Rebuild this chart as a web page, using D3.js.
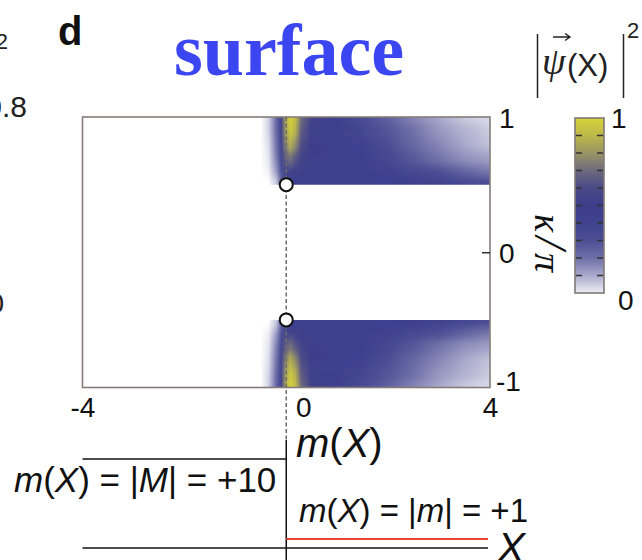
<!DOCTYPE html>
<html>
<head>
<meta charset="utf-8">
<script src="https://cdn.jsdelivr.net/npm/d3@7"></script>
<style>
  html, body { margin: 0; padding: 0; background: #fff; }
  svg { display: block; }
  .sans { font-family: "Liberation Sans", Arial, sans-serif; }
  .serif { font-family: "Liberation Serif", "Times New Roman", serif; }
</style>
</head>
<body>
<svg id="chart" width="642" height="560"></svg>
<script>
// ---- axes and ticks ----
const xDomain = [-4, 4];
const kappaDomain = [-1, 1];
const xTicks = [-4, 0, 4];
const kappaTicks = [-1, 0, 1];

// ---- colour map for |psi(X)|^2 ----
const cmapStops  = [0, 0.1, 0.2, 0.3, 0.4, 0.5, 0.6, 0.7, 0.8, 0.9, 1.0];
const cmapColors = ["#ffffff", "#a9a9cc", "#6e6fa8", "#4c4f94", "#3f428f", "#3c3e8b",
                    "#4a4988", "#6e6a7e", "#9a9465", "#bdb84a", "#d6d33a"];
const colorbarTicks = [0.1, 0.2, 0.3, 0.4, 0.5, 0.6, 0.7, 0.8, 0.9];
const colorbarLabels = [0, 1];

// ---- surface-state density, sampled along X for several |kappa|/pi ----
const xSamples = [-4, -0.7, -0.5, -0.35, -0.2, -0.1, 0, 0.08, 0.18, 0.3, 0.5, 1, 1.5, 2, 2.5, 3, 3.5, 4];
const kappaRows = [1.0, 0.9, 0.8, 0.7, 0.6, 0.52];
const density_k100 = [0, 0, 0, 0.05, 0.22, 0.45, 0.88, 1.00, 0.92, 0.70, 0.53, 0.43, 0.33, 0.24, 0.16, 0.10, 0.06, 0.04];
const density_k090 = [0, 0, 0, 0.05, 0.21, 0.42, 0.86, 0.96, 0.88, 0.65, 0.51, 0.45, 0.37, 0.28, 0.20, 0.13, 0.09, 0.06];
const density_k080 = [0, 0, 0, 0.04, 0.19, 0.40, 0.78, 0.88, 0.78, 0.61, 0.50, 0.46, 0.41, 0.31, 0.22, 0.16, 0.10, 0.07];
const density_k070 = [0, 0, 0, 0.03, 0.17, 0.36, 0.66, 0.72, 0.64, 0.55, 0.50, 0.47, 0.43, 0.36, 0.27, 0.19, 0.14, 0.11];
const density_k060 = [0, 0, 0, 0.02, 0.13, 0.31, 0.54, 0.55, 0.52, 0.50, 0.48, 0.46, 0.44, 0.40, 0.35, 0.30, 0.23, 0.18];
const density_k052 = [0, 0, 0, 0, 0.06, 0.23, 0.46, 0.46, 0.46, 0.46, 0.45, 0.45, 0.44, 0.43, 0.42, 0.40, 0.37, 0.34];
const densityRows = [density_k100, density_k090, density_k080, density_k070, density_k060, density_k052];

// ---- Dirac points where the surface band ends ----
const edgeKappa = [0.5, -0.5];

// ---- mass profile m(X) ----
const massLeft = 10;   // |M|
const massRight = 1;   // |m|

const svg = d3.select("#chart");
const defs = svg.append("defs");

const plot = { left: 82.5, right: 490, top: 117, bottom: 387.5 };
const x = d3.scaleLinear().domain(xDomain).range([plot.left, plot.right]);
const y = d3.scaleLinear().domain(kappaDomain).range([plot.bottom, plot.top]);
const color = d3.scaleLinear().domain(cmapStops).range(cmapColors).interpolate(d3.interpolateRgb);

// one horizontal gradient per sampled kappa row
densityRows.forEach((row, i) => {
  const g = defs.append("linearGradient")
    .attr("id", "row" + i)
    .attr("gradientUnits", "userSpaceOnUse")
    .attr("x1", x(xDomain[0])).attr("x2", x(xDomain[1]))
    .attr("y1", 0).attr("y2", 0);
  g.selectAll("stop").data(row).join("stop")
    .attr("offset", (d, j) => (x(xSamples[j]) - x(xDomain[0])) / (x(xDomain[1]) - x(xDomain[0])))
    .attr("stop-color", d => color(d));
});

// vertical smoothing between neighbouring rows
const blur = defs.append("filter").attr("id", "vblur")
  .attr("filterUnits", "userSpaceOnUse")
  .attr("x", 0).attr("y", 0).attr("width", 642).attr("height", 560);
blur.append("feGaussianBlur").attr("stdDeviation", "0 4.5");

// the two bands: kappa in [0.5, 1] and its mirror [-1, -0.5]
[1, -1].forEach((sign, b) => {
  const k0 = 0.5 * sign, k1 = 1 * sign;
  const top = Math.min(y(k0), y(k1)), bot = Math.max(y(k0), y(k1));
  defs.append("clipPath").attr("id", "band" + b)
    .append("rect").attr("x", plot.left).attr("y", top)
    .attr("width", plot.right - plot.left).attr("height", bot - top);

  const strips = kappaRows.map((k, i) => {
    const hi = i === 0 ? k + 0.15 : (k + kappaRows[i - 1]) / 2;
    const lo = i === kappaRows.length - 1 ? k - 0.15 : (k + kappaRows[i + 1]) / 2;
    return { i, hi: hi * sign, lo: lo * sign };
  });

  svg.append("g").attr("clip-path", `url(#band${b})`)
    .append("g").attr("filter", "url(#vblur)")
    .selectAll("rect").data(strips).join("rect")
      .attr("x", plot.left)
      .attr("width", plot.right - plot.left)
      .attr("y", d => Math.min(y(d.hi), y(d.lo)))
      .attr("height", d => Math.abs(y(d.hi) - y(d.lo)) + 0.5)
      .attr("fill", d => `url(#row${d.i})`);
});

// frame
svg.append("rect")
  .attr("x", plot.left).attr("y", plot.top)
  .attr("width", plot.right - plot.left).attr("height", plot.bottom - plot.top)
  .attr("fill", "none").attr("stroke", "#857c79").attr("stroke-width", 1.6);

// right kappa axis (inner tick at 0)
const yAxis = svg.append("g").attr("class", "sans")
  .attr("transform", `translate(${plot.right},0)`)
  .call(d3.axisRight(y).tickValues(kappaTicks).tickSize(-8).tickPadding(10).tickFormat(d => String(d)));
yAxis.select(".domain").remove();
yAxis.selectAll(".tick line").attr("stroke", "#222").attr("stroke-width", 1.4)
  .attr("opacity", d => d === 0 ? 1 : 0);
yAxis.selectAll(".tick text").attr("font-size", 28).attr("fill", "#111")
  .attr("dy", d => d === -1 ? "0.1em" : "0.36em")
  .attr("x", d => d === -1 ? 6 : 9);

// bottom X axis labels
const xAxis = svg.append("g").attr("class", "sans")
  .attr("transform", `translate(0,${plot.bottom})`)
  .call(d3.axisBottom(x).tickValues(xTicks).tickSize(0).tickPadding(10).tickFormat(d => String(d)));
xAxis.select(".domain").remove();
xAxis.selectAll(".tick text").attr("font-size", 28).attr("fill", "#111")
  .attr("dx", d => d === 0 ? 17 : 0);

// kappa/pi label, rotated
svg.append("text").attr("class", "serif")
  .attr("transform", "translate(535,214) rotate(90)")
  .attr("font-style", "italic").attr("fill", "#111")
  .selectAll("tspan").data(["κ", "/", "π"]).join("tspan")
    .attr("dx", (d, i) => i === 0 ? 0 : 4)
    .attr("font-size", d => d === "/" ? 46 : 38)
    .text(d => d);

// dashed line at X = 0 running down into the m(X) axis
const mScale = d3.scaleLinear().domain([0, 10]).range([548, 459]);
svg.append("line")
  .attr("x1", x(0)).attr("x2", x(0))
  .attr("y1", plot.top).attr("y2", 440)
  .attr("stroke", "#6e6e6e").attr("stroke-width", 1.5).attr("stroke-dasharray", "4,2.5");

// Dirac points
svg.selectAll("circle.dirac").data(edgeKappa).join("circle")
  .attr("class", "dirac")
  .attr("cx", x(0)).attr("cy", d => y(d)).attr("r", 6.5)
  .attr("fill", "#fff").attr("stroke", "#111").attr("stroke-width", 2);

// ---- colour bar ----
const cb = { x: 575, w: 29, top: 118, bottom: 293 };
const cbScale = d3.scaleLinear().domain([0, 1]).range([cb.bottom, cb.top]);
const cbGrad = defs.append("linearGradient").attr("id", "cbgrad")
  .attr("x1", 0).attr("x2", 0).attr("y1", 1).attr("y2", 0);
cbGrad.selectAll("stop").data(cmapStops).join("stop")
  .attr("offset", d => d)
  .attr("stop-color", (d, i) => i === 0 ? "#efedf5" : cmapColors[i]);
svg.append("rect").attr("x", cb.x).attr("y", cb.top)
  .attr("width", cb.w).attr("height", cb.bottom - cb.top)
  .attr("fill", "url(#cbgrad)").attr("stroke", "#807876").attr("stroke-width", 1.6);
const cbTickG = svg.append("g");
colorbarTicks.forEach(t => {
  cbTickG.append("line").attr("x1", cb.x + 1).attr("x2", cb.x + 7)
    .attr("y1", cbScale(t)).attr("y2", cbScale(t));
  cbTickG.append("line").attr("x1", cb.x + cb.w - 7).attr("x2", cb.x + cb.w - 1)
    .attr("y1", cbScale(t)).attr("y2", cbScale(t));
});
cbTickG.selectAll("line").attr("stroke", "#333").attr("stroke-width", 1.5);
svg.selectAll("text.cblabel").data(colorbarLabels).join("text")
  .attr("class", "cblabel sans")
  .attr("x", d => d === 1 ? 611 : 618)
  .attr("y", d => d === 1 ? cbScale(1) + 10 : cbScale(0) + 17)
  .attr("font-size", 28).attr("fill", "#111")
  .text(d => String(d));

// colour bar title |psi(X)|^2
const titleG = svg.append("g");
titleG.append("line").attr("x1", 537.5).attr("x2", 537.5).attr("y1", 34).attr("y2", 98);
titleG.append("line").attr("x1", 623.5).attr("x2", 623.5).attr("y1", 34).attr("y2", 98);
titleG.selectAll("line").attr("stroke", "#222").attr("stroke-width", 1.5);
titleG.append("text").attr("class", "serif").attr("x", 542).attr("y", 74)
  .attr("font-size", 38).attr("font-style", "italic").attr("fill", "#222").text("ψ");
titleG.append("path")
  .attr("d", "M553,37 L569,37 M565,33.5 L570,37 L565,40.5")
  .attr("fill", "none").attr("stroke", "#222").attr("stroke-width", 1.4);
titleG.append("text").attr("class", "sans").attr("x", 567).attr("y", 76)
  .attr("font-size", 31).attr("fill", "#222").text("(X)");
titleG.append("text").attr("class", "sans").attr("x", 627).attr("y", 38)
  .attr("font-size", 22).attr("fill", "#222").text("2");

// panel letter and title
svg.append("text").attr("class", "sans").attr("x", 58).attr("y", 45)
  .attr("font-size", 40).attr("font-weight", "bold").attr("fill", "#111").text("d");
svg.append("text").attr("class", "serif").attr("x", 174).attr("y", 75)
  .attr("font-size", 74).attr("font-weight", "bold").attr("fill", "#3b45f0").text("surface");

// edge of the neighbouring panel
svg.append("text").attr("class", "sans").attr("x", 8).attr("y", 49)
  .attr("text-anchor", "end").attr("font-size", 22).attr("fill", "#222").text("2");
svg.append("text").attr("class", "sans").attr("x", 27).attr("y", 117)
  .attr("text-anchor", "end").attr("font-size", 30).attr("fill", "#222").text("0.8");
svg.append("text").attr("class", "sans").attr("x", 4).attr("y", 313)
  .attr("text-anchor", "end").attr("font-size", 28).attr("fill", "#222").text("0");

// ---- mass profile schematic ----
const sch = svg.append("g");
sch.append("line").attr("x1", x(0)).attr("x2", x(0)).attr("y1", 440).attr("y2", 560)
  .attr("stroke", "#111").attr("stroke-width", 1.5);
sch.append("line").attr("x1", x(-4)).attr("x2", x(0))
  .attr("y1", mScale(massLeft)).attr("y2", mScale(massLeft))
  .attr("stroke", "#111").attr("stroke-width", 1.5);
sch.append("line").attr("x1", x(-4)).attr("x2", x(4) - 2)
  .attr("y1", mScale(0)).attr("y2", mScale(0))
  .attr("stroke", "#111").attr("stroke-width", 1.5);
sch.append("line").attr("x1", x(0)).attr("x2", x(4) - 2)
  .attr("y1", mScale(massRight)).attr("y2", mScale(massRight))
  .attr("stroke", "#e8452f").attr("stroke-width", 2);

function massLabel(px, py, size, parts) {
  const t = sch.append("text").attr("class", "sans").attr("x", px).attr("y", py)
    .attr("font-size", size).attr("fill", "#111");
  parts.forEach(([s, it]) => t.append("tspan").attr("font-style", it ? "italic" : "normal").text(s));
}
massLabel(296, 457, 40, [["m", 1], ["(", 0], ["X", 1], [")", 0]]);
massLabel(14, 492, 35, [["m", 1], ["(", 0], ["X", 1], [") = |", 0], ["M", 1], ["| = +" + massLeft, 0]]);
massLabel(299, 522, 33, [["m", 1], ["(", 0], ["X", 1], [") = |", 0], ["m", 1], ["| = +" + massRight, 0]]);
massLabel(497, 562, 42, [["X", 1]]);
</script>
</body>
</html>
